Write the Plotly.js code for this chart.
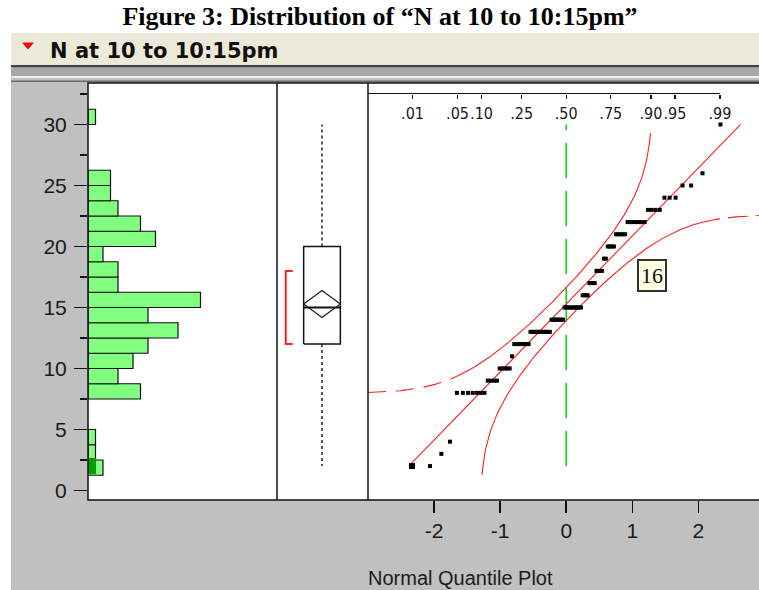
<!DOCTYPE html>
<html><head><meta charset="utf-8">
<script src="https://cdn.plot.ly/plotly-3.0.1.min.js"></script>
<style>html,body{margin:0;padding:0;overflow:hidden;background:#fff;} #chart{width:759px;height:590px;}</style>
</head><body><div id="chart"></div>
<script>
// ---------------- data ----------------
const levels = [2,3,4,8,9,10,11,12,13,14,15,16,17,18,19,20,21,22,23,24,25,26,30];
const freqs  = [2,1,1,7,4,5,1,8,12,8,11,4,4,4,2,4,5,7,4,3,2,1,1];
const selectedValues = [2];
const selectedLabel = '16';
const probLabels = ['.01','.05','.10','.25','.50','.75','.90','.95','.99'];
const probValues = [0.01,0.05,0.10,0.25,0.50,0.75,0.90,0.95,0.99];
const yTickVals = [0,5,10,15,20,25,30];
const qTickVals = [-2,-1,0,1,2];
const qTickText = ['-2','-1','0','1','2'];
const titleText = 'Figure 3: Distribution of \u201cN at 10 to 10:15pm\u201d';
const varName = 'N at 10 to 10:15pm';
const qqTitle = 'Normal Quantile Plot';

// ---------------- statistics helpers ----------------
function normCdf(x){
  const z=Math.abs(x)/Math.SQRT2, t=1/(1+0.3275911*z);
  const a1=0.254829592,a2=-0.284496736,a3=1.421413741,a4=-1.453152027,a5=1.061405429;
  const erf=1-(((((a5*t+a4)*t)+a3)*t+a2)*t+a1)*t*Math.exp(-z*z);
  return x>=0?0.5*(1+erf):0.5*(1-erf);
}
function normInv(p){
  const a=[-3.969683028665376e+01,2.209460984245205e+02,-2.759285104469687e+02,1.383577518672690e+02,-3.066479806614716e+01,2.506628277459239e+00];
  const b=[-5.447609879822406e+01,1.615858368580409e+02,-1.556989798598866e+02,6.680131188771972e+01,-1.328068155288572e+01];
  const c=[-7.784894002430293e-03,-3.223964580411365e-01,-2.400758277161838e+00,-2.549732539343734e+00,4.374664141464968e+00,2.938163982698783e+00];
  const d=[7.784695709041462e-03,3.224671290700398e-01,2.445134137142996e+00,3.754408661907416e+00];
  const pl=0.02425; let q,r;
  if(p<pl){q=Math.sqrt(-2*Math.log(p));return (((((c[0]*q+c[1])*q+c[2])*q+c[3])*q+c[4])*q+c[5])/((((d[0]*q+d[1])*q+d[2])*q+d[3])*q+1);}
  if(p>1-pl){q=Math.sqrt(-2*Math.log(1-p));return -(((((c[0]*q+c[1])*q+c[2])*q+c[3])*q+c[4])*q+c[5])/((((d[0]*q+d[1])*q+d[2])*q+d[3])*q+1);}
  q=p-0.5;r=q*q;return (((((a[0]*r+a[1])*r+a[2])*r+a[3])*r+a[4])*r+a[5])*q/(((((b[0]*r+b[1])*r+b[2])*r+b[3])*r+b[4])*r+1);
}

const raw=[]; levels.forEach((v,i)=>{for(let k=0;k<freqs[i];k++) raw.push(v);});
const n=raw.length;
const mean=raw.reduce((s,v)=>s+v,0)/n;
const sd=Math.sqrt(raw.reduce((s,v)=>s+(v-mean)*(v-mean),0)/(n-1));
function quant(p){const h=p*(n+1),lo=Math.floor(h),f=h-lo;
  const A=raw[Math.max(0,Math.min(n-1,lo-1))],B=raw[Math.max(0,Math.min(n-1,lo))];return A+f*(B-A);}
const q1=quant(0.25), med=quant(0.5), q3=quant(0.75), iqr=q3-q1;
const wHi=Math.max(...raw.filter(v=>v<=q3+1.5*iqr)), wLo=Math.min(...raw.filter(v=>v>=q1-1.5*iqr));
const ci=1.984*sd/Math.sqrt(n);
let half=Math.floor(n/2), shLo=raw[0], shHi=raw[n-1];
for(let i=0;i+half<n;i++){ if(raw[i+half]-raw[i] < shHi-shLo){shLo=raw[i];shHi=raw[i+half];} }
const vMin=raw[0], vMax=raw[n-1];

// ---------------- geometry (layout only) ----------------
const W=759,H=590,L=88,T=83,PB=500,PW=W-L,PH=PB-T;
const xp=px=>(px-L)/PW, yp=py=>(PB-py)/PH;
const yRange=[-0.78,33.4];
const qRange=[-3,-3+(W-368)/66.08];

// ---------------- traces ----------------
const traces=[];
traces.push({type:'histogram',y:raw,xaxis:'x',yaxis:'y',ybins:{start:0,end:35,size:1.25},
  marker:{color:'#80ff80',line:{color:'#111',width:1.2}},hoverinfo:'none'});
traces.push({type:'histogram',y:selectedValues,xaxis:'x',yaxis:'y',ybins:{start:0,end:35,size:1.25},
  marker:{color:'#00a000',line:{color:'#111',width:0}},hoverinfo:'none'});

// box plot panel (x2 in 0..1)
const bL=0.293,bR=0.696,bC=0.4945,brX=0.096,brT=0.173;
const ln=(x,y,col,w,dash,ax)=>({type:'scatter',mode:'lines',x:x,y:y,xaxis:ax||'x2',yaxis:'y',
  line:{color:col,width:w,dash:dash||'solid'},hoverinfo:'none'});
traces.push(ln([bC,bC],[q3,wHi],'#222',1.5,'dot'));
traces.push(ln([bC,bC],[q1,wLo],'#222',1.5,'dot'));
traces.push(ln([bL,bR,bR,bL,bL],[q1,q1,q3,q3,q1],'#111',1.5));
traces.push(ln([bL,bR],[med,med],'#111',2.2));
traces.push(ln([bL,bC,bR,bC,bL],[mean,mean+ci,mean,mean-ci,mean],'#222',1.3));
traces.push(ln([brT,brX,brX,brT],[shLo,shLo,shHi,shHi],'#ff2020',2));

// quantile plot panel
traces.push(ln([0,0],[vMin,vMax],'#00dd00',1.5,'35px,13px','x3'));
traces.push(ln([(vMin-mean)/sd,(vMax-mean)/sd],[vMin,vMax],'#ff2020',1.1,'solid','x3'));
const D=0.095,pLim=0.006,leftTail=-1.62,rightTail=2.03;
function curve(sign,x0,x1){const xs=[],ys=[];const N=160;
  for(let i=0;i<=N;i++){const x=x0+(x1-x0)*i/N;const p=normCdf(x)+sign*D;
    if(p<pLim||p>1-pLim) continue; xs.push(x); ys.push(mean+sd*normInv(p));}
  return [xs,ys];}
const xEndU=normInv(1-pLim-D), xStartL=normInv(pLim+D);
let c;
c=curve(1,qRange[0],leftTail); traces.push(ln(c[0],c[1],'#ff2020',1.1,'18px,10px','x3'));
c=curve(1,leftTail,xEndU); traces.push(ln(c[0],c[1],'#ff2020',1.1,'solid','x3'));
c=curve(-1,xStartL,rightTail); traces.push(ln(c[0],c[1],'#ff2020',1.1,'solid','x3'));
c=curve(-1,rightTail,qRange[1]); traces.push(ln(c[0],c[1],'#ff2020',1.1,'20px,8px','x3'));

const qx=raw.map((v,i)=>normInv((i+1)/(n+1)));
traces.push({type:'scatter',mode:'markers',x:qx,y:raw,xaxis:'x3',yaxis:'y',
  marker:{symbol:'square',size:4,color:'#000',line:{width:0}},hoverinfo:'none'});
const selIdx=raw.indexOf(selectedValues[0]);
traces.push({type:'scatter',mode:'markers',x:[qx[selIdx]],y:[raw[selIdx]],xaxis:'x3',yaxis:'y',
  marker:{symbol:'square',size:6,color:'#000',line:{width:0}},hoverinfo:'none'});
// probability scale (top)
traces.push({type:'scatter',mode:'markers',x:[0],y:[mean],xaxis:'x4',yaxis:'y',marker:{size:0.1,opacity:0},hoverinfo:'none'});

// ---------------- layout ----------------
const hidden={showticklabels:false,ticks:'',showline:false,showgrid:false,zeroline:false};
const tickFont={family:'Liberation Sans, Arial, sans-serif',size:21,color:'#1a1a1a'};
const P=(x0,y0,x1,y1)=>({x0:xp(x0),x1:xp(x1),y0:yp(y0),y1:yp(y1)});
const rect=(x0,y0,x1,y1,fill,layer)=>Object.assign({type:'rect',xref:'paper',yref:'paper',fillcolor:fill,line:{width:0},layer:layer||'below'},P(x0,y0,x1,y1));
const shapes=[
  rect(11,65,W,H,'#c0c0c0'),
  rect(11,33,W,65,'#ece9d8'),
  rect(11,65,W,67.5,'#404040'),
  rect(11,67.5,W,76,'#a8a8a8'),
  rect(11,76,W,78,'#ececec'),
  rect(11,80.5,W,82,'#6a6a6a'),
  rect(L,T,W,PB,'#ffffff'),
  Object.assign({type:'rect',xref:'paper',yref:'paper',line:{color:'#111',width:1.5},fillcolor:'rgba(0,0,0,0)',layer:'above'},P(L,T,W+5,PB)),
  Object.assign({type:'line',xref:'paper',yref:'paper',line:{color:'#111',width:1.5},layer:'above'},P(277,T,277,PB)),
  Object.assign({type:'line',xref:'paper',yref:'paper',line:{color:'#111',width:1.5},layer:'above'},P(368,T,368,PB)),
  {type:'path',xref:'paper',yref:'paper',fillcolor:'#ff0000',line:{width:0},layer:'above',
   path:`M ${xp(22)} ${yp(42.5)} L ${xp(34)} ${yp(42.5)} L ${xp(28)} ${yp(49.5)} Z`},
  {type:'line',xref:'x3',yref:'paper',x0:qRange[0],x1:normInv(0.99),y0:yp(93.5),y1:yp(93.5),line:{color:'#111',width:1.2},layer:'above'}
];
const layout={
  width:W,height:H,margin:{l:L,r:0,t:T,b:H-PB},
  paper_bgcolor:'#ffffff',plot_bgcolor:'rgba(0,0,0,0)',
  showlegend:false,barmode:'overlay',bargap:0,
  title:{text:'<b>'+titleText+'</b>',font:{family:'Liberation Serif, Times New Roman, serif',size:26,color:'#000'},
    x:380/W,xref:'container',xanchor:'center',y:1-16/H,yref:'container',yanchor:'middle'},
  xaxis:Object.assign({domain:[0,xp(277)],range:[0,25.2],anchor:'y'},hidden),
  xaxis2:Object.assign({domain:[xp(277),xp(368)],range:[0,1],anchor:'y'},hidden),
  xaxis3:{domain:[xp(368),1],range:qRange,anchor:'y',tickmode:'array',tickvals:qTickVals,ticktext:qTickText,
    ticks:'outside',ticklen:12,tickwidth:1.5,tickcolor:'#111',tickfont:tickFont,
    showline:false,showgrid:false,zeroline:false},
  xaxis4:{overlaying:'x3',side:'bottom',anchor:'free',position:yp(93.5),range:qRange,
    tickmode:'array',tickvals:probValues.map(normInv),ticktext:probLabels,tickangle:0,
    ticks:'outside',ticklen:4,tickwidth:1.2,tickcolor:'#111',ticklabelstandoff:1,
    tickfont:{family:'Liberation Sans Narrow, Arial Narrow, DejaVu Sans Condensed, sans-serif',size:16,color:'#1a1a1a'},
    showline:false,showgrid:false,zeroline:false},
  yaxis:{domain:[0,1],range:yRange,anchor:'x',tickmode:'array',tickvals:yTickVals,
    ticks:'outside',ticklen:13,tickwidth:1.5,tickcolor:'#111',tickfont:tickFont,ticklabelstandoff:3,
    minor:{tickmode:'linear',tick0:0,dtick:2.5,ticks:'outside',ticklen:7,tickwidth:1.5,tickcolor:'#111'},
    showline:false,showgrid:false,zeroline:false},
  shapes:shapes,
  annotations:[
    {xref:'paper',yref:'paper',x:xp(48),y:yp(51),xanchor:'left',yanchor:'middle',showarrow:false,
     text:'<b>'+varName+'</b>',font:{family:'DejaVu Sans, sans-serif',size:21,color:'#111'}},
    {xref:'paper',yref:'paper',x:xp(366),y:yp(578),xanchor:'left',yanchor:'middle',showarrow:false,
     text:qqTitle,font:{family:'Liberation Sans, Arial, sans-serif',size:20,color:'#1a1a1a'}},
    {xref:'paper',yref:'paper',x:xp(651.5),y:yp(275),xanchor:'center',yanchor:'middle',showarrow:false,
     text:selectedLabel,font:{family:'Liberation Serif, Times New Roman, serif',size:22,color:'#111'},
     bgcolor:'#ffffe1',bordercolor:'#333',borderwidth:2,borderpad:2}
  ]
};
Plotly.newPlot('chart',traces,layout,{displayModeBar:false,staticPlot:true});
</script></body></html>
